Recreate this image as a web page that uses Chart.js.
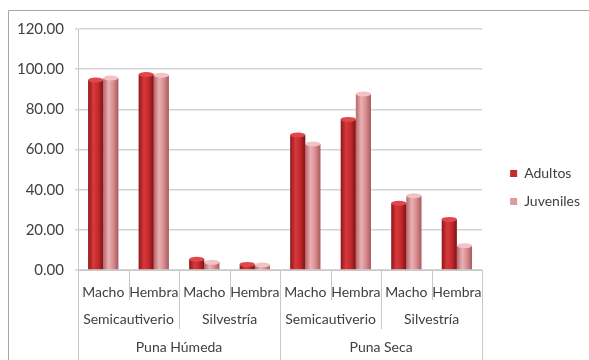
<!DOCTYPE html>
<html>
<head>
    <title>Adultos y juveniles</title>
    <meta charset="UTF-8">
    <style>
        html, body { margin: 0; padding: 0; background: #fff; }
        #wrap { position: relative; width: 589px; height: 360px; }
    </style>
</head>
<body>
<div id="wrap"><canvas id="myChart" width="589" height="360"></canvas></div>
<script src="https://cdn.jsdelivr.net/npm/chart.js@4.4.1/dist/chart.umd.min.js"></script>
<script>
    var sexos = ['Macho', 'Hembra', 'Macho', 'Hembra', 'Macho', 'Hembra', 'Macho', 'Hembra'];
    var ambientes = ['Semicautiverio', 'Silvestría', 'Semicautiverio', 'Silvestría'];
    var regiones = ['Puna Húmeda', 'Puna Seca'];
    var adultos = [94.6, 97.3, 5.3, 2.8, 67.2, 75.0, 33.2, 25.2];
    var juveniles = [95.6, 97.0, 3.8, 2.5, 62.7, 87.6, 37.0, 12.1];
    var yTicks = [0, 20, 40, 60, 80, 100, 120];

    var textColor = '#404040';
    var lineColor = '#c8c8c8';
    var fontFamily = 'Lato, "Open Sans", sans-serif';
    var fontSize = 14;

    // cylinder-like shading for every bar, built from the element's own x/width
    var shading = {
        id: 'shading',
        beforeDatasetsDraw: function (chart) {
            var c = chart.ctx;
            var stops = [
                ['#8e171a', '#d8383b', '#c42a2e', '#7f1215'],
                ['#b86468', '#eab0b3', '#d98e92', '#a85a5e']
            ];
            chart.data.datasets.forEach(function (ds, di) {
                chart.getDatasetMeta(di).data.forEach(function (bar) {
                    var left = bar.x - bar.width / 2;
                    var g = c.createLinearGradient(left, 0, left + bar.width, 0);
                    g.addColorStop(0, stops[di][0]);
                    g.addColorStop(0.35, stops[di][1]);
                    g.addColorStop(0.65, stops[di][2]);
                    g.addColorStop(1, stops[di][3]);
                    bar.options = Object.assign({}, bar.options, {backgroundColor: g});
                });
            });
        },
        afterDatasetsDraw: function (chart) {
            var c = chart.ctx;
            var caps = ['#e0484b', '#f2c2c4'];
            chart.data.datasets.forEach(function (ds, di) {
                chart.getDatasetMeta(di).data.forEach(function (bar) {
                    c.save();
                    c.fillStyle = caps[di];
                    c.beginPath();
                    c.ellipse(bar.x, bar.y, bar.width / 2, 2.5, 0, 0, Math.PI * 2);
                    c.fill();
                    c.restore();
                });
            });
        }
    };

    // frame, category separators and the two grouping rows under the x axis
    var groups = {
        id: 'groups',
        beforeDraw: function (chart) {
            // push the legend a little away from the plot
            if (chart.legend) {
                chart.legend.left += 14;
                chart.legend.right += 14;
            }
            var c = chart.ctx;
            c.save();
            c.strokeStyle = '#a6a6a6';
            c.lineWidth = 1;
            c.beginPath();
            c.moveTo(8.5, 360);
            c.lineTo(8.5, 10.5);
            c.lineTo(589, 10.5);
            c.stroke();
            c.restore();
        },
        afterDraw: function (chart) {
            var c = chart.ctx;
            var x = chart.scales.x;
            var top = chart.chartArea.bottom;
            var step = x.getPixelForValue(1) - x.getPixelForValue(0);
            var edge = function (i) { return x.getPixelForValue(i) - step / 2; };
            c.save();
            c.strokeStyle = lineColor;
            c.lineWidth = 1;
            for (var i = 0; i <= sexos.length; i++) {
                var len = 30;
                if (i % 2 === 0) len = 59;
                if (i % 4 === 0) len = 90;
                var px = Math.round(edge(i)) + 0.5;
                c.beginPath();
                c.moveTo(px, top);
                c.lineTo(px, top + len);
                c.stroke();
            }
            c.fillStyle = textColor;
            c.font = fontSize + 'px ' + fontFamily;
            c.textAlign = 'center';
            c.textBaseline = 'middle';
            ambientes.forEach(function (a, j) {
                c.fillText(a, (edge(j * 2) + edge(j * 2 + 2)) / 2, top + 49);
            });
            regiones.forEach(function (r, j) {
                c.fillText(r, (edge(j * 4) + edge(j * 4 + 4)) / 2, top + 77);
            });
            c.restore();
        }
    };

    var ctx = document.getElementById('myChart').getContext('2d');
    var myChart = new Chart(ctx, {
        type: 'bar',
        data: {
            labels: sexos,
            datasets: [
                {
                    label: 'Adultos',
                    data: adultos,
                    backgroundColor: '#c42a2e',
                    borderWidth: 0
                },
                {
                    label: 'Juveniles',
                    data: juveniles,
                    backgroundColor: '#df9a9d',
                    borderWidth: 0
                }
            ]
        },
        options: {
            responsive: false,
            animation: false,
            layout: {padding: {top: 29, left: 0, right: 13, bottom: 14}},
            datasets: {bar: {categoryPercentage: 0.6, barPercentage: 1.0}},
            scales: {
                x: {
                    grid: {display: false},
                    border: {display: true, color: lineColor},
                    ticks: {
                        color: textColor,
                        font: {family: fontFamily, size: fontSize},
                        padding: 6,
                        maxRotation: 0,
                        autoSkip: false
                    },
                    afterFit: function (scale) { scale.height = 76; }
                },
                y: {
                    min: 0,
                    max: 120,
                    afterBuildTicks: function (scale) {
                        scale.ticks = yTicks.map(function (v) { return {value: v}; });
                    },
                    grid: {color: '#d4d4d4', lineWidth: 1.5, tickLength: 3},
                    border: {display: true, color: lineColor},
                    ticks: {
                        color: textColor,
                        font: {family: fontFamily, size: 15},
                        padding: 11,
                        callback: function (v) { return Number(v).toFixed(2); }
                    },
                    afterFit: function (scale) { scale.width = 78; }
                }
            },
            plugins: {
                legend: {
                    position: 'right',
                    labels: {
                        color: textColor,
                        font: {family: fontFamily, size: fontSize},
                        boxWidth: 7,
                        boxHeight: 7,
                        padding: 14
                    }
                },
                tooltip: {enabled: false}
            }
        },
        plugins: [shading, groups]
    });
</script>
</body>
</html>
